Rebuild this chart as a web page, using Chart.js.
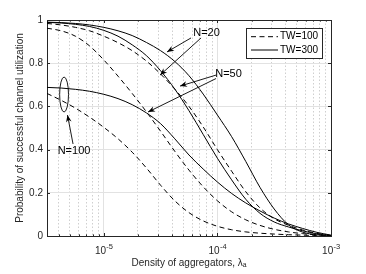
<!DOCTYPE html>
<html>
<head>
<meta charset="utf-8">
<style>
  html, body { margin: 0; padding: 0; background: #fff; }
</style>
</head>
<body>
<canvas id="myChart" width="366" height="274"></canvas>

<script src="https://cdn.jsdelivr.net/npm/chart.js"></script>
<script>
  // density of aggregators (x) and the six curves
  const lambda = [3.162e-6, 4.217e-6, 5.623e-6, 7.499e-6, 1e-5, 1.334e-5, 1.778e-5, 2.371e-5, 3.162e-5,
                  4.217e-5, 5.623e-5, 7.499e-5, 1e-4, 1.334e-4, 1.778e-4, 2.371e-4, 3.162e-4, 4.217e-4,
                  5.623e-4, 7.499e-4, 1e-3];
  const n20tw300  = [0.990, 0.988, 0.984, 0.977, 0.966, 0.950, 0.928, 0.896, 0.858, 0.808, 0.742, 0.657, 0.560, 0.460, 0.345, 0.225, 0.125, 0.052, 0.018, 0.006, 0.002];
  const n50tw300  = [0.989, 0.986, 0.980, 0.970, 0.952, 0.925, 0.885, 0.835, 0.765, 0.680, 0.580, 0.470, 0.360, 0.260, 0.170, 0.105, 0.065, 0.042, 0.024, 0.010, 0.002];
  const n20tw100  = [0.984, 0.977, 0.966, 0.950, 0.925, 0.895, 0.858, 0.810, 0.750, 0.680, 0.600, 0.505, 0.400, 0.300, 0.205, 0.130, 0.080, 0.050, 0.028, 0.012, 0.003];
  const n50tw100  = [0.962, 0.950, 0.925, 0.880, 0.815, 0.740, 0.660, 0.575, 0.485, 0.392, 0.305, 0.228, 0.163, 0.112, 0.075, 0.049, 0.031, 0.019, 0.011, 0.005, 0.002];
  const n100tw300 = [0.688, 0.685, 0.679, 0.670, 0.656, 0.636, 0.608, 0.570, 0.520, 0.450, 0.375, 0.310, 0.250, 0.197, 0.153, 0.116, 0.083, 0.056, 0.035, 0.017, 0.004];
  const n100tw100 = [0.660, 0.628, 0.592, 0.550, 0.503, 0.450, 0.388, 0.315, 0.235, 0.163, 0.108, 0.070, 0.045, 0.029, 0.019, 0.013, 0.009, 0.006, 0.004, 0.002, 0.001];

  const xMin = 3.1623e-6;   // 10^-5.5
  const xMax = 1e-3;
  const xMajorTicks = [1e-5, 1e-4, 1e-3];
  const xTickBase = '10';
  const xTickExp = ['-5', '-4', '-3'];
  const yTicks = [0, 0.2, 0.4, 0.6, 0.8, 1];
  const yTickLabels = ['0', '0.2', '0.4', '0.6', '0.8', '1'];
  const legendLabels = ['TW=100', 'TW=300'];

  const FONT = "'Liberation Sans', Arial, Helvetica, sans-serif";
  const DASH = [5, 3.5];

  // minor ticks 2..9 x 10^n inside the range
  const xMinorTicks = [];
  [1e-6, 1e-5, 1e-4].forEach(d => {
    for (let m = 2; m <= 9; m++) {
      const v = m * d;
      if (v > xMin && v < xMax) xMinorTicks.push(v);
    }
  });
  const xAllTicks = xMinorTicks.concat(xMajorTicks).sort((a, b) => a - b);
  const isDecade = v => Math.abs(Math.log10(v) - Math.round(Math.log10(v))) < 1e-6;

  // text + arrows, in data coordinates
  const notes = [
    { text: 'N=20', x: 8.02e-5, y: 0.942,
      arrows: [[5.86e-5, 0.917, 3.60e-5, 0.852], [7.18e-5, 0.917, 3.13e-5, 0.745]] },
    { text: 'N=50', x: 1.253e-4, y: 0.75,
      arrows: [[9.73e-5, 0.745, 4.69e-5, 0.694], [9.73e-5, 0.729, 2.45e-5, 0.574]] },
    { text: 'N=100', x: 5.47e-6, y: 0.394,
      arrows: [[5.36e-6, 0.426, 4.79e-6, 0.560]] }
  ];
  const ellipseNote = { x: 4.47e-6, y: 0.655, x2: 4.89e-6, y2: 0.736 };

  const pts = arr => arr.map((v, i) => ({ x: lambda[i], y: v }));
  const line = (label, arr, dashed) => ({
    label, data: pts(arr),
    borderColor: '#000', borderWidth: 1, borderDash: dashed ? DASH : [],
    pointRadius: 0, fill: false, cubicInterpolationMode: 'monotone'
  });

  function drawArrow(ctx, x1, y1, x2, y2) {
    ctx.beginPath(); ctx.moveTo(x1, y1); ctx.lineTo(x2, y2); ctx.stroke();
    const a = Math.atan2(y2 - y1, x2 - x1), len = 7, w = 2.8;
    const bx = x2 - len * Math.cos(a), by = y2 - len * Math.sin(a);
    const nx = x2 - len * 0.7 * Math.cos(a), ny = y2 - len * 0.7 * Math.sin(a);
    ctx.beginPath();
    ctx.moveTo(x2, y2);
    ctx.lineTo(bx + w * Math.sin(a), by - w * Math.cos(a));
    ctx.lineTo(nx, ny);
    ctx.lineTo(bx - w * Math.sin(a), by + w * Math.cos(a));
    ctx.closePath(); ctx.fill();
  }

  const matlabDecor = {
    id: 'matlabDecor',
    afterDatasetsDraw(chart) {
      const { ctx, chartArea: ca, scales: { x, y } } = chart;
      ctx.save();

      // box (top / right)
      ctx.strokeStyle = '#262626'; ctx.lineWidth = 1;
      ctx.beginPath();
      ctx.moveTo(ca.left, ca.top + 0.5); ctx.lineTo(ca.right + 0.5, ca.top + 0.5);
      ctx.lineTo(ca.right + 0.5, ca.bottom);
      ctx.stroke();

      // inward ticks
      ctx.beginPath();
      xAllTicks.forEach(v => {
        const px = Math.round(x.getPixelForValue(v)) + 0.5;
        const len = isDecade(v) ? 3 : 1.6;
        ctx.moveTo(px, ca.bottom); ctx.lineTo(px, ca.bottom - len);
        ctx.moveTo(px, ca.top); ctx.lineTo(px, ca.top + len);
      });
      yTicks.forEach(v => {
        const py = Math.round(y.getPixelForValue(v)) + 0.5;
        ctx.moveTo(ca.left, py); ctx.lineTo(ca.left + 3, py);
        ctx.moveTo(ca.right, py); ctx.lineTo(ca.right - 3, py);
      });
      ctx.stroke();

      // x tick labels: 10 with raised exponent
      ctx.fillStyle = '#262626'; ctx.textBaseline = 'alphabetic'; ctx.textAlign = 'left';
      xMajorTicks.forEach((v, i) => {
        ctx.font = '10px ' + FONT;
        const wb = ctx.measureText(xTickBase).width;
        ctx.font = '7.5px ' + FONT;
        const we = ctx.measureText(xTickExp[i]).width;
        const left = x.getPixelForValue(v) - (wb + we) / 2;
        ctx.font = '10px ' + FONT;
        ctx.fillText(xTickBase, left, ca.bottom + 18);
        ctx.font = '7.5px ' + FONT;
        ctx.fillText(xTickExp[i], left + wb + 0.3, ca.bottom + 13);
      });

      // N= notes with arrows
      ctx.fillStyle = '#000'; ctx.strokeStyle = '#000'; ctx.lineWidth = 0.9;
      ctx.font = '11px ' + FONT;
      ctx.textAlign = 'center'; ctx.textBaseline = 'middle';
      notes.forEach(n => {
        ctx.fillText(n.text, x.getPixelForValue(n.x), y.getPixelForValue(n.y));
        n.arrows.forEach(a => drawArrow(ctx,
          x.getPixelForValue(a[0]), y.getPixelForValue(a[1]),
          x.getPixelForValue(a[2]), y.getPixelForValue(a[3])));
      });

      // ellipse around the N=100 pair
      const ex = x.getPixelForValue(ellipseNote.x), ey = y.getPixelForValue(ellipseNote.y);
      const rx = Math.abs(x.getPixelForValue(ellipseNote.x2) - ex);
      const ry = Math.abs(y.getPixelForValue(ellipseNote.y2) - ey);
      ctx.beginPath(); ctx.ellipse(ex, ey, rx, ry, 0, 0, Math.PI * 2); ctx.stroke();

      // legend box
      const bw = 76, bh = 30;
      const bx = ca.right - 9 - bw, by = ca.top + 8;
      ctx.fillStyle = '#fff'; ctx.fillRect(bx, by, bw, bh);
      ctx.strokeStyle = '#262626'; ctx.lineWidth = 1;
      ctx.strokeRect(Math.round(bx) + 0.5, Math.round(by) + 0.5, bw, bh);
      ctx.font = '10px ' + FONT; ctx.textAlign = 'left'; ctx.fillStyle = '#000';
      legendLabels.forEach((lab, i) => {
        const ly = by + 8.7 + i * 13.3;
        ctx.beginPath();
        ctx.setLineDash(i === 0 ? DASH : []);
        ctx.strokeStyle = '#000';
        ctx.moveTo(bx + 5, ly); ctx.lineTo(bx + 32, ly); ctx.stroke();
        ctx.setLineDash([]);
        ctx.fillText(lab, bx + 34, ly);
      });
      ctx.restore();
    }
  };

  new Chart(document.getElementById('myChart').getContext('2d'), {
    type: 'line',
    data: {
      datasets: [
        line('N=20, TW=300', n20tw300, false),
        line('N=50, TW=300', n50tw300, false),
        line('N=20, TW=100', n20tw100, true),
        line('N=50, TW=100', n50tw100, true),
        line('N=100, TW=300', n100tw300, false),
        line('N=100, TW=100', n100tw100, true)
      ]
    },
    options: {
      responsive: false,
      animation: false,
      layout: { padding: { left: 0, right: 35, top: 20, bottom: 0 } },
      plugins: { legend: { display: false }, tooltip: { enabled: false } },
      scales: {
        x: {
          type: 'logarithmic',
          min: xMin, max: xMax,
          afterBuildTicks: axis => { axis.ticks = xAllTicks.map(v => ({ value: v })); },
          afterFit: s => { s.height = 38; },
          ticks: { display: false, autoSkip: false },
          grid: {
            drawTicks: false,
            color: c => (c.tick && isDecade(c.tick.value)) ? '#e2e2e2' : '#cfcfcf'
          },
          border: {
            color: '#262626',
            dash: c => (c.tick && !isDecade(c.tick.value)) ? [1.5, 2] : []
          },
          title: {
            display: true, text: 'Density of aggregators, λₐ',
            color: '#262626', font: { family: FONT, size: 10 },
            padding: { top: 0, bottom: 5 }
          }
        },
        y: {
          min: 0, max: 1,
          afterBuildTicks: axis => { axis.ticks = yTicks.map(v => ({ value: v })); },
          afterFit: s => { s.width = 47; },
          ticks: {
            padding: 4, color: '#262626', font: { family: FONT, size: 10 },
            callback: v => yTickLabels[yTicks.indexOf(v)]
          },
          grid: { drawTicks: false, color: '#e2e2e2' },
          border: { color: '#262626' },
          title: {
            display: true, text: 'Probability of successful channel utilization',
            color: '#262626', font: { family: FONT, size: 10 },
            padding: { top: 14, bottom: 0 }
          }
        }
      }
    },
    plugins: [matlabDecor]
  });
</script>
</body>
</html>
